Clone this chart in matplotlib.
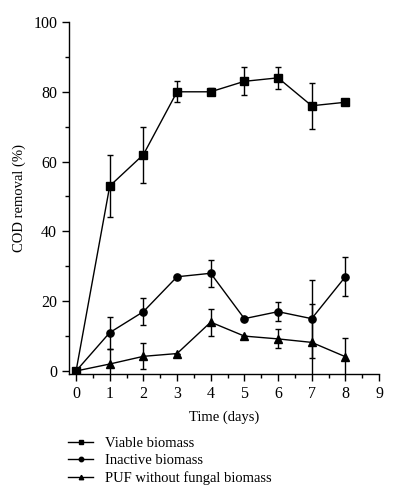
import matplotlib
matplotlib.use("Agg")
import matplotlib.pyplot as plt
from matplotlib.ticker import MultipleLocator
from matplotlib.lines import Line2D

plt.rcParams['font.family'] = ['Liberation Serif', 'DejaVu Serif']

days = [0, 1, 2, 3, 4, 5, 6, 7, 8]
viable = [0, 53, 62, 80, 80, 83, 84, 76, 77]
viable_err = [0, 9, 8, 3, 1, 4, 3.2, 6.6, 0]
inactive = [0, 11, 17, 27, 28, 15, 17, 15, 27]
inactive_err = [0, 4.6, 3.9, 0, 3.9, 0, 2.8, 11.2, 5.6]
puf = [0, 2, 4.2, 5, 14, 10, 9.2, 8.2, 4.1]
puf_err = [0, 4.4, 3.7, 0, 3.9, 0, 2.7, 11, 5.4]
labels = ["Viable biomass", "Inactive biomass", "PUF without fungal biomass"]

fig = plt.figure(figsize=(3.96, 5.0), dpi=100)
ax = fig.add_axes([69/396, 1-374/500, (379-69)/396, (374-22)/500])

series = [(viable, viable_err, 's'), (inactive, inactive_err, 'o'), (puf, puf_err, '^')]
handles = []
for (vals, errs, mk), lab in zip(series, labels):
    ax.errorbar(days, vals, yerr=errs, color='black', marker=mk, markersize=5.2,
                linewidth=1.0, elinewidth=1.0, capsize=2.5, capthick=1.0)
    handles.append(Line2D([], [], color='black', marker=mk, markersize=3.2,
                          linewidth=1.0))

ax.set_xlim(-0.21, 9)
ax.set_ylim(-0.86, 100)
ax.xaxis.set_major_locator(MultipleLocator(1))
ax.xaxis.set_minor_locator(MultipleLocator(0.5))
ax.yaxis.set_major_locator(MultipleLocator(20))
ax.yaxis.set_minor_locator(MultipleLocator(10))
ax.tick_params(which='both', direction='out', width=1.0, labelsize=11.5)
ax.tick_params(which='major', length=5)
ax.tick_params(which='minor', length=3)
for s in ['top', 'right']:
    ax.spines[s].set_visible(False)
for s in ['left', 'bottom']:
    ax.spines[s].set_linewidth(1.0)

ax.set_xlabel("Time (days)", fontsize=10.5, labelpad=6)
ax.set_ylabel("COD removal (%)", fontsize=10.5, labelpad=5)

fig.legend(handles=handles, labels=labels, loc='upper left',
           bbox_to_anchor=(55/396, 1-424/500), frameon=False, fontsize=10.5,
           handlelength=1.7, handletextpad=0.8, labelspacing=0.25)

fig.savefig("out.png", dpi=100)
